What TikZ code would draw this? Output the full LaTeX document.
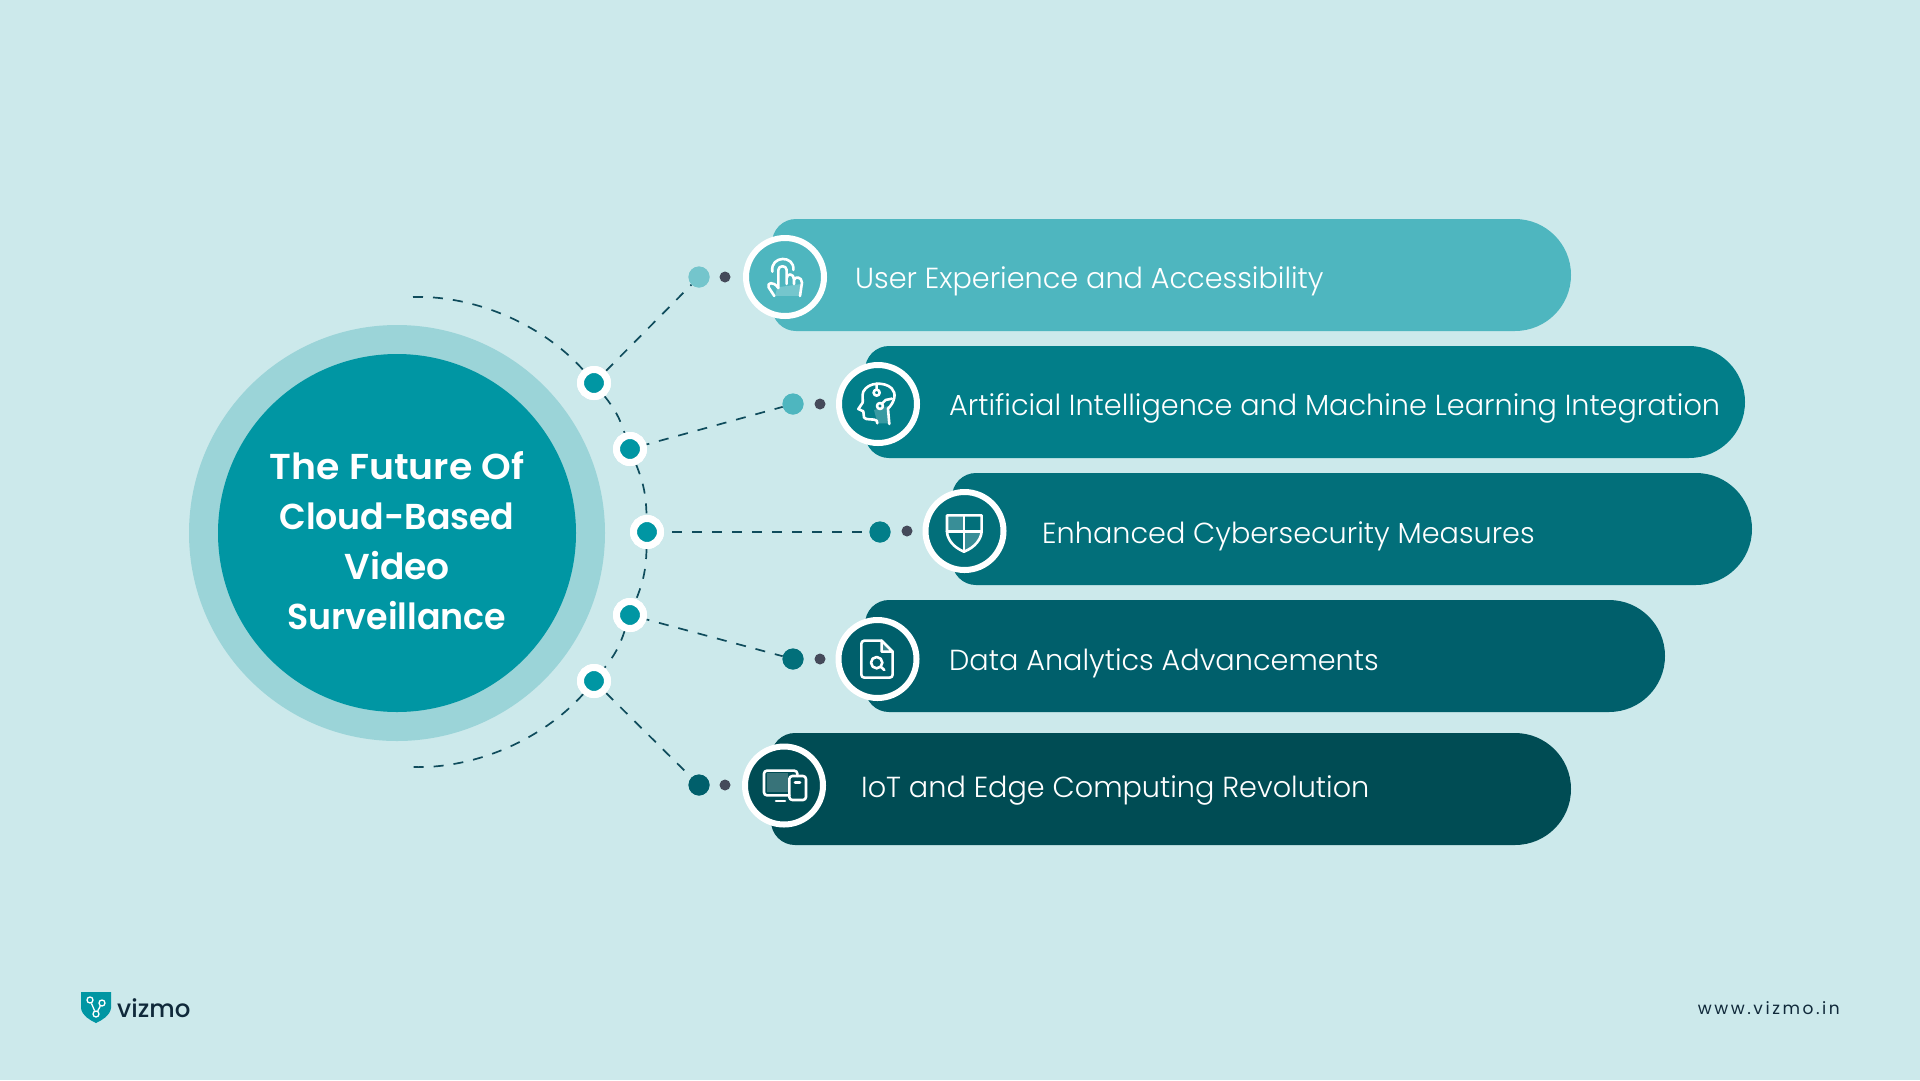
\documentclass[tikz,border=0pt]{standalone}
\usepackage{graphicx}
\usepackage{fontspec}
\setmainfont{Poppins}
\newfontfamily\titlefont{Poppins SemiBold}
\newfontfamily\labfont[FakeStretch=0.99]{Poppins Light}
\newfontfamily\brandfont{Poppins Medium}
\newfontfamily\urlfont[LetterSpace=15]{Poppins}
\definecolor{bgc}{HTML}{CCE9EB}
\definecolor{ringc}{HTML}{9BD4D8}
\definecolor{corec}{HTML}{0096A3}
\definecolor{pa}{HTML}{4EB6BF}
\definecolor{pb}{HTML}{027E89}
\definecolor{pc}{HTML}{026F7A}
\definecolor{pd}{HTML}{005F6B}
\definecolor{pe}{HTML}{004C54}
\definecolor{linkc}{HTML}{0F4C5C}
\definecolor{dotc}{HTML}{454A5A}
\definecolor{inkc}{HTML}{10293A}
\tikzset{
  hub/.style={circle,fill=corec,draw=white,line width=7pt,minimum size=27pt,inner sep=0pt},
  link/.style={draw=linkc,line width=1.7pt,dash pattern=on 10pt off 10pt},
  smalldot/.style={circle,fill=dotc,minimum size=11pt,inner sep=0pt},
  bigdot/.style={circle,minimum size=21pt,inner sep=0pt},
  iconring/.style={circle,draw=white,line width=6pt,minimum size=78pt,inner sep=0pt},
  lab/.style={anchor=west,text=white,font=\labfont\fontsize{29}{34}\selectfont,inner sep=0pt},
  ico/.style={draw=white,line width=2.6pt,line cap=round,line join=round,fill=none},
  icofill/.style={fill=white,fill opacity=.22,draw=none}
}
\newcommand{\pillshape}[5]{%
  \fill[#5,rounded corners=24pt] (#2,#3+112) -- (#2,#3) [rounded corners=56pt] -- (#4,#3) -- (#4,#3+112) [rounded corners=24pt] -- cycle;
  \coordinate (#1) at (#2,#3);
}
\begin{document}
\begin{tikzpicture}[x=1pt,y=-1pt]
\useasboundingbox (0,0) rectangle (1920,1080);
\fill[bgc] (0,0) rectangle (1920,1080);

\coordinate (arcT) at (413,297);
\coordinate (arcB) at (413,767);
\node[hub] (h1) at (594,383) {};
\node[hub] (h2) at (630,449) {};
\node[hub] (h3) at (647,532) {};
\node[hub] (h4) at (630,615) {};
\node[hub] (h5) at (594,681) {};
\node[bigdot,fill=pa!70!bgc] (b1) at (699,277) {};
\node[bigdot,fill=pa] (b2) at (793,404) {};
\node[bigdot,fill=pb] (b3) at (880,532) {};
\node[bigdot,fill=pc] (b4) at (793,659) {};
\node[bigdot,fill=pd] (b5) at (699,785) {};
\draw[link] (arcT) to[bend left=25,looseness=.85] (h1);
\draw[link] (h1) to[bend left=10] (h2);
\draw[link] (h2) to[bend left=10] (h3);
\draw[link] (h3) to[bend left=10] (h4);
\draw[link] (h4) to[bend left=10] (h5);
\draw[link] (h5) to[bend left=25,looseness=.85] (arcB);
\draw[link] (h1) -- (b1);
\draw[link,dash phase=7pt] (h2) -- (b2);
\draw[link,dash phase=12pt] (h3) -- (b3);
\draw[link,dash phase=7pt] (h4) -- (b4);
\draw[link] (h5) -- (b5);

\node[circle,fill=ringc,minimum size=416pt,inner sep=0pt] (outer) at (397,533) {};
\node[circle,fill=corec,minimum size=358pt,inner sep=0pt] (core) at (397,533) {};
\node[align=center,text=white,font=\titlefont\fontsize{36}{50}\selectfont] (title) at (397,541) {\scalebox{1.05}[1]{The Future Of}\\\scalebox{.965}[1]{Cloud-Based}\\Video\\\scalebox{.967}[1]{Surveillance}};

\node[hub] at (h1) {};
\node[hub] at (h2) {};
\node[hub] at (h3) {};
\node[hub] at (h4) {};
\node[hub] at (h5) {};
\node[bigdot,fill=pa!70!bgc] at (b1) {};
\node[bigdot,fill=pa] at (b2) {};
\node[bigdot,fill=pb] at (b3) {};
\node[bigdot,fill=pc] at (b4) {};
\node[bigdot,fill=pd] at (b5) {};
\node[smalldot] (s1) at (725,277) {};
\node[smalldot] (s2) at (820,404) {};
\node[smalldot] (s3) at (907,531) {};
\node[smalldot] (s4) at (820,659) {};
\node[smalldot] (s5) at (725,785) {};

\pillshape{p1}{772}{219}{1571}{pa}
\pillshape{p2}{865}{346}{1745}{pb}
\pillshape{p3}{952}{473}{1752}{pc}
\pillshape{p4}{865}{600}{1665}{pd}
\pillshape{p5}{771}{733}{1571}{pe}

\node[iconring,fill=pa] (i1) at (785,277) {};
\node[iconring,fill=pb] (i2) at (878,404) {};
\node[iconring,fill=pc] (i3) at (964.5,531) {};
\node[iconring,fill=pd] (i4) at (877.5,659) {};
\node[iconring,fill=pe] (i5) at (784,785.5) {};

\node[lab] (l1) at (855,281) {User Experience and Accessibility};
\node[lab] (l2) at (949,408) {Artificial Intelligence and Machine Learning Integration};
\node[lab] (l3) at (1042,536) {Enhanced Cybersecurity Measures};
\node[lab] (l4) at (949,663) {Data Analytics Advancements};
\node[lab] (l5) at (861,790) {IoT and Edge Computing Revolution};

\begin{scope}[shift={(720,210)},x=.3333pt,y=-.3333pt]
\fill[icofill] (165,258) -- (172,232) -- (245,222) -- (240,258) -- cycle;
\draw[ico] (163,258) -- (146,232) .. controls (140,218) and (160,212) .. (175,234) -- (175,180) .. controls (175,165) and (200,165) .. (200,180) -- (200,222)
 (200,205) .. controls (200,188) and (222,190) .. (222,208) -- (222,222)
 (222,210) .. controls (224,198) and (246,200) .. (246,218) -- (240,258);
\draw[ico] (157,185) .. controls (150,135) and (225,135) .. (220,180);
\end{scope}
\begin{scope}[shift={(720,210)},x=.3333pt,y=-.3333pt]
\fill[icofill] (462,600) -- (505,588) -- (510,640) -- (472,640) -- (470,630) -- cycle;
\draw[ico] (508,642) -- (504,596) .. controls (525,575) and (530,550) .. (515,535) .. controls (495,515) and (445,515) .. (430,545) .. controls (425,558) and (430,570) .. (428,578) -- (415,597) -- (430,604) -- (432,622) .. controls (434,632) and (465,625) .. (470,632) -- (472,640);
\draw[ico] (470,521) -- (470,538) (470,548) circle[radius=9] (487,580) -- (497,570) -- (516,566) (480,588) circle[radius=9];
\end{scope}
\begin{scope}[shift={(820,470)},x=.3333pt,y=-.3333pt]
\fill[icofill] (382,137) -- (432,137) -- (432,185) -- (382,185) -- cycle;
\fill[icofill] (432,185) -- (484,185) .. controls (482,205) and (465,232) .. (432,244) -- cycle;
\draw[ico] (381,136) -- (485,136) -- (485,185) .. controls (483,208) and (465,232) .. (432,245) .. controls (400,232) and (382,208) .. (381,185) -- cycle;
\draw[ico] (432,136) -- (432,245) (381,185) -- (485,185);
\end{scope}
\begin{scope}[shift={(820,470)},x=.3333pt,y=-.3333pt]
\fill[icofill] (185,514) -- (216,545) -- (185,545) -- cycle;
\draw[ico,rounded corners=3pt] (185,512) -- (124,512) -- (124,623) -- (218,623) -- (218,545);
\draw[ico] (185,512) -- (218,545) -- (185,545) -- cycle;
\draw[ico] (170,578) circle[radius=17] (183,591) -- (193,600);
\end{scope}
\begin{scope}[shift={(720,720)},x=.3333pt,y=-.3333pt]
\fill[icofill] (140,160) -- (205,160) -- (205,217) -- (140,217) -- cycle;
\draw[ico,rounded corners=3pt] (208,226) -- (132,226) -- (132,152) -- (232,152) -- (232,168);
\draw[ico,rounded corners=3pt] (208,168) rectangle (258,240);
\draw[ico] (225,187) -- (240,187) (168,243) -- (195,243);
\end{scope}

\path[fill=corec] (81,992) -- (111,992) -- (111,1008) .. controls (110,1016) and (102,1020) .. (96,1023) .. controls (90,1020) and (82,1016) .. (81,1008) -- cycle;
\begin{scope}[draw=white,line width=1.3pt]
\node[circle,draw=white,line width=1.3pt,minimum size=6pt,inner sep=0pt] (n1) at (90,1000) {};
\node[circle,draw=white,line width=1.3pt,minimum size=6pt,inner sep=0pt] (n2) at (102,1003) {};
\node[circle,draw=white,line width=1.3pt,minimum size=6pt,inner sep=0pt] (n3) at (96,1014) {};
\draw (n1) -- (n3);
\draw (n2) -- (n3);
\end{scope}
\node[anchor=west,inner sep=0pt,text=inkc,font=\brandfont\fontsize{24.5}{30}\selectfont] (brand) at (117,1008) {vizmo};
\node[anchor=east,inner sep=0pt,text=inkc,font=\urlfont\fontsize{17}{20}\selectfont] (url) at (1840,1008) {www.vizmo.in};
\end{tikzpicture}
\end{document}
